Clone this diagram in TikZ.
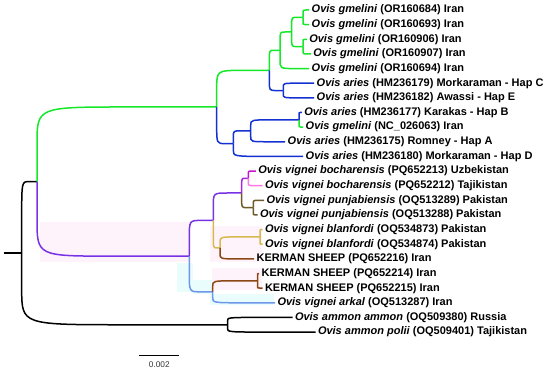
\documentclass[tikz,border=0pt]{standalone}
\usepackage{fontspec}
\setmainfont{Liberation Sans}
\usetikzlibrary{calc}
\definecolor{grn}{RGB}{20,232,40}
\definecolor{blu}{RGB}{20,50,210}
\definecolor{pur}{RGB}{120,50,230}
\definecolor{vio}{RGB}{165,40,220}
\definecolor{mag}{RGB}{200,20,210}
\definecolor{pnk}{RGB}{255,120,230}
\definecolor{olv}{RGB}{110,90,40}
\definecolor{ylw}{RGB}{215,185,80}
\definecolor{brn}{RGB}{140,70,20}
\definecolor{lbl}{RGB}{110,150,235}
\definecolor{hlpink}{RGB}{255,243,251}
\definecolor{hlcyan}{RGB}{234,253,253}
\newcommand\tbranch[3]{\draw[#1] let \p1=(#2), \p2=(#3) in (\p1) -- (\x1,{0.5*(\y1+\y2)}) .. controls (\x1,\y2) .. ({0.5*(\x1+\x2)},\y2) -- (\p2);}
\begin{document}
\begin{tikzpicture}[x=1pt,y=-1pt,
  br/.style={line width=1.5pt},
  leaf/.style={anchor=west, inner xsep=2.3pt, inner ysep=0pt, font=\fontsize{11}{13}\selectfont\bfseries}]
\useasboundingbox (0,0) rectangle (550,371);
% faint highlights
\fill[hlpink] (40,222) rectangle (190,262);
\fill[hlpink] (210,226) rectangle (262,262);
\fill[hlpink] (212,268) rectangle (262,290);
\fill[hlcyan] (177,263) rectangle (193,292);
\fill[hlcyan] (193,280) rectangle (212,294);
\fill[hlcyan] (210,294) rectangle (274,305);
% internal nodes
\coordinate (stub) at (3.5,253.16);
\coordinate (nR) at (21.7,253.16);
\coordinate (nB) at (37,181.56);
\coordinate (nAm) at (227.5,324.76);
\coordinate (nC) at (216.7,106.99);
\coordinate (nC1) at (269.3,70.39);
\coordinate (nE) at (280,50.26);
\coordinate (n14) at (291.7,31.96);
\coordinate (n12) at (303,17.32);
\coordinate (n34) at (303,46.6);
\coordinate (nF) at (283.3,90.52);
\coordinate (nI) at (233.3,143.59);
\coordinate (nH) at (250.7,130.78);
\coordinate (nG) at (299,119.8);
\coordinate (nD) at (189.3,256.14);
\coordinate (nJ) at (213.3,220.45);
\coordinate (nK) at (241.7,193);
\coordinate (n1213) at (248.3,178.36);
\coordinate (n1415) at (253.3,207.64);
\coordinate (nL) at (220,247.9);
\coordinate (nM) at (260,236.92);
\coordinate (nN) at (212.7,291.82);
\coordinate (nO) at (257.5,280.84);
% leaves
\node[leaf] (L1) at (309.2,10) {\textit{Ovis gmelini} (OR160684) Iran};
\node[leaf] (L2) at (309.2,24.64) {\textit{Ovis gmelini} (OR160693) Iran};
\node[leaf] (L3) at (306.8,39.28) {\textit{Ovis gmelini} (OR160906) Iran};
\node[leaf] (L4) at (310.8,53.92) {\textit{Ovis gmelini} (OR160907) Iran};
\node[leaf] (L5) at (309.2,68.56) {\textit{Ovis gmelini} (OR160694) Iran};
\node[leaf] (L6) at (314.2,83.2) {\textit{Ovis aries} (HM236179) Morkaraman - Hap C};
\node[leaf] (L7) at (314.2,97.84) {\textit{Ovis aries} (HM236182) Awassi - Hap E};
\node[leaf] (L8) at (301.8,112.48) {\textit{Ovis aries} (HM236177) Karakas - Hap B};
\node[leaf] (L9) at (303.2,127.12) {\textit{Ovis gmelini} (NC\_026063) Iran};
\node[leaf] (L10) at (285.2,141.76) {\textit{Ovis aries} (HM236175) Romney - Hap A};
\node[leaf] (L11) at (303.2,156.4) {\textit{Ovis aries} (HM236180) Morkaraman - Hap D};
\node[leaf] (L12) at (255.8,171.04) {\textit{Ovis vignei bocharensis} (PQ652213) Uzbekistan};
\node[leaf] (L13) at (262.5,185.68) {\textit{Ovis vignei bocharensis} (PQ652212) Tajikistan};
\node[leaf] (L14) at (264,200.32) {\textit{Ovis vignei punjabiensis} (OQ513289) Pakistan};
\node[leaf] (L15) at (257.5,214.96) {\textit{Ovis vignei punjabiensis} (OQ513288) Pakistan};
\node[leaf] (L16) at (262.5,229.6) {\textit{Ovis vignei blanfordi} (OQ534873) Pakistan};
\node[leaf] (L17) at (262.5,244.24) {\textit{Ovis vignei blanfordi} (OQ534874) Pakistan};
\node[leaf] (L18) at (254.2,258.88) {KERMAN SHEEP (PQ652216) Iran};
\node[leaf] (L19) at (259.2,273.52) {KERMAN SHEEP (PQ652214) Iran};
\node[leaf] (L20) at (262.5,288.16) {KERMAN SHEEP (PQ652215) Iran};
\node[leaf] (L21) at (275,302.8) {\textit{Ovis vignei arkal} (OQ513287) Iran};
\node[leaf] (L22) at (292.5,317.44) {\textit{Ovis ammon ammon} (OQ509380) Russia};
\node[leaf] (L23) at (315.5,332.08) {\textit{Ovis ammon polii} (OQ509401) Tajikistan};
% branches
\draw[br,black] (stub) -- (nR);
\tbranch{br,black}{nR}{nB}
\tbranch{br,black}{nR}{nAm}
\tbranch{br,black}{nAm}{L22.west}
\tbranch{br,black}{nAm}{L23.west}
\tbranch{br,grn}{nB}{nC}
\tbranch{br,pur}{nB}{nD}
\tbranch{br,grn}{nC}{nC1}
\tbranch{br,blu}{nC}{nI}
\tbranch{br,grn}{nC1}{nE}
\tbranch{br,blu}{nC1}{nF}
\tbranch{br,grn}{nE}{n14}
\tbranch{br,grn}{nE}{L5.west}
\tbranch{br,grn}{n14}{n12}
\tbranch{br,grn}{n14}{n34}
\tbranch{br,grn}{n12}{L1.west}
\tbranch{br,grn}{n12}{L2.west}
\tbranch{br,grn}{n34}{L3.west}
\tbranch{br,grn}{n34}{L4.west}
\tbranch{br,blu}{nF}{L6.west}
\tbranch{br,blu}{nF}{L7.west}
\tbranch{br,blu}{nI}{nH}
\tbranch{br,blu}{nI}{L11.west}
\tbranch{br,blu}{nH}{nG}
\tbranch{br,blu}{nH}{L10.west}
\tbranch{br,blu}{nG}{L8.west}
\tbranch{br,grn}{nG}{L9.west}
\tbranch{br,pur}{nD}{nJ}
\tbranch{br,lbl}{nD}{nN}
\tbranch{br,pur}{nJ}{nK}
\tbranch{br,ylw}{nJ}{nL}
\tbranch{br,vio}{nK}{n1213}
\tbranch{br,olv}{nK}{n1415}
\tbranch{br,mag}{n1213}{L12.west}
\tbranch{br,pnk}{n1213}{L13.west}
\tbranch{br,olv}{n1415}{L14.west}
\tbranch{br,olv}{n1415}{L15.west}
\tbranch{br,ylw}{nL}{nM}
\tbranch{br,brn}{nL}{L18.west}
\tbranch{br,ylw}{nM}{L16.west}
\tbranch{br,ylw}{nM}{L17.west}
\tbranch{br,brn}{nN}{nO}
\tbranch{br,lbl}{nN}{L21.west}
\tbranch{br,brn}{nO}{L19.west}
\tbranch{br,brn}{nO}{L20.west}
% scale bar
\coordinate (sb1) at (139.3,355.7);
\coordinate (sb2) at (179.3,355.7);
\draw[line width=1pt,black] (sb1) -- (sb2);
\node[font=\fontsize{8.3}{10}\selectfont, text=black!80, inner sep=0pt] (sbl) at (159.3,365) {0.002};
\end{tikzpicture}
\end{document}
